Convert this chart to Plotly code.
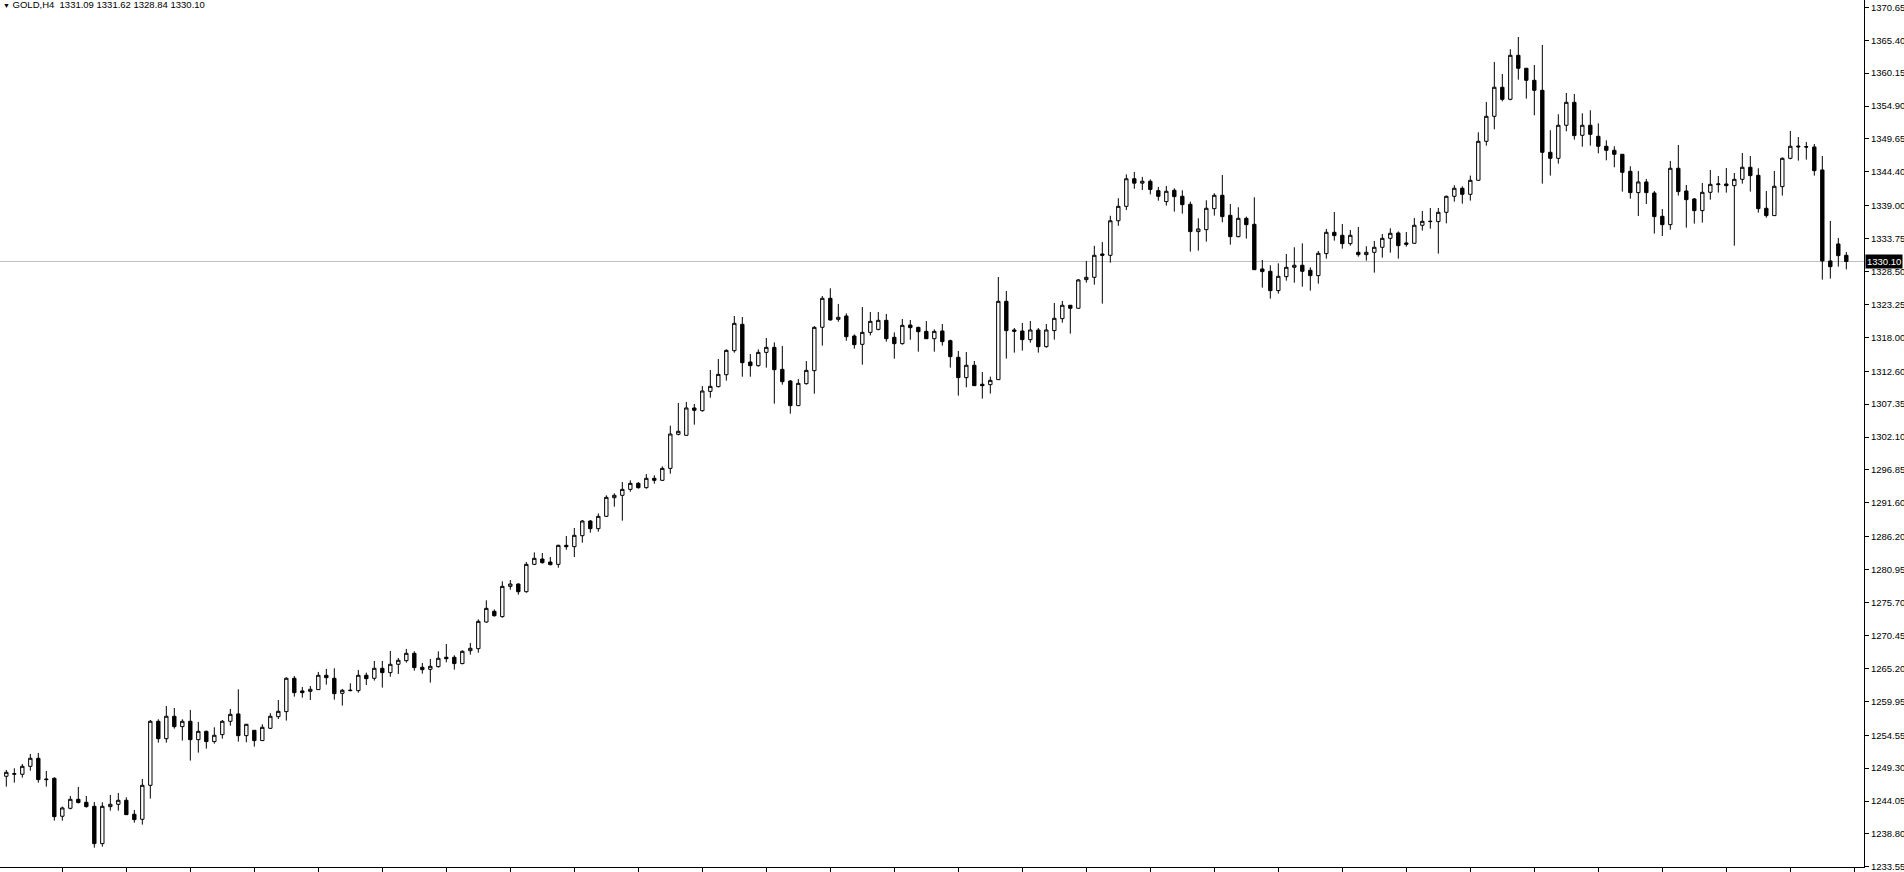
import plotly.graph_objects as go

# GOLD H4 candles (index 0 = leftmost visible bar)
opens = [
    1248.00, 1248.32, 1248.32, 1249.59, 1250.87, 1247.57, 1247.68, 1241.62, 1242.89, 1244.33,
    1243.85, 1243.21, 1237.26, 1243.16, 1243.53, 1244.17, 1241.94, 1241.14, 1246.56, 1256.77,
    1254.00, 1257.57, 1255.92, 1256.77, 1253.84, 1255.17, 1253.53, 1254.64, 1256.77, 1257.94,
    1254.48, 1255.33, 1253.69, 1255.65, 1257.51, 1258.31, 1263.63, 1261.61, 1261.55, 1261.82,
    1264.11, 1263.63, 1261.23, 1261.66, 1261.66, 1264.11, 1263.63, 1265.22, 1264.53, 1265.86,
    1266.44, 1267.61, 1265.38, 1265.06, 1265.49, 1266.98, 1266.98, 1265.97, 1268.03, 1268.35,
    1272.60, 1274.31, 1273.46, 1278.29, 1278.66, 1277.44, 1281.80, 1282.65, 1282.17, 1281.80,
    1284.83, 1284.62, 1286.37, 1288.71, 1287.49, 1289.46, 1292.43, 1292.81, 1293.76, 1294.72,
    1294.03, 1295.52, 1295.20, 1297.11, 1302.54, 1302.38, 1306.74, 1306.31, 1309.39, 1310.14,
    1312.05, 1315.88, 1320.08, 1314.07, 1313.49, 1315.61, 1316.41, 1312.90, 1311.04, 1307.11,
    1310.62, 1312.69, 1319.61, 1324.23, 1320.88, 1321.41, 1318.22, 1316.89, 1318.80, 1319.28,
    1320.72, 1318.01, 1317.00, 1319.97, 1319.60, 1318.96, 1317.79, 1319.02, 1317.48, 1314.82,
    1311.58, 1313.55, 1310.52, 1310.46, 1311.26, 1323.75, 1319.18, 1319.02, 1317.64, 1319.18,
    1316.52, 1319.08, 1320.99, 1323.12, 1322.64, 1327.21, 1327.58, 1331.30, 1331.09, 1336.60,
    1338.90, 1343.30, 1342.60, 1342.90, 1341.40, 1339.65, 1341.46, 1340.50, 1339.22, 1334.87,
    1335.18, 1338.53, 1340.66, 1337.47, 1334.07, 1336.99, 1336.03, 1328.91, 1328.54, 1325.46,
    1327.69, 1329.18, 1329.50, 1328.70, 1327.85, 1331.36, 1334.76, 1334.28, 1332.95, 1331.57,
    1331.20, 1331.57, 1332.37, 1333.80, 1334.65, 1333.06, 1333.01, 1335.88, 1336.46, 1336.46,
    1337.95, 1340.50, 1341.78, 1340.82, 1343.05, 1349.27, 1353.26, 1357.89, 1355.97, 1362.99,
    1360.92, 1359.00, 1357.41, 1347.52, 1346.56, 1351.83, 1355.49, 1350.23, 1351.83, 1350.07,
    1348.48, 1347.84, 1347.20, 1344.49, 1341.09, 1342.79, 1341.03, 1337.31, 1335.98, 1344.97,
    1341.35, 1340.08, 1338.22, 1341.14, 1342.36, 1342.47, 1342.20, 1343.21, 1345.13, 1343.85,
    1338.59, 1337.42, 1342.04, 1346.56, 1348.37, 1348.42, 1348.37, 1344.70, 1330.19, 1332.90,
    1331.09,
]
highs = [
    1249.01, 1249.27, 1249.96, 1251.56, 1251.72, 1248.85, 1247.84, 1243.16, 1244.86, 1246.30,
    1244.86, 1243.90, 1243.85, 1245.02, 1245.34, 1244.65, 1242.63, 1247.57, 1256.98, 1257.09,
    1259.21, 1258.89, 1257.09, 1258.58, 1256.66, 1255.28, 1255.81, 1256.98, 1258.74, 1261.87,
    1256.34, 1255.39, 1256.29, 1258.05, 1260.17, 1263.79, 1264.00, 1262.24, 1262.40, 1264.64,
    1265.12, 1265.22, 1261.93, 1262.83, 1264.96, 1264.53, 1266.39, 1266.39, 1267.99, 1266.87,
    1268.31, 1267.93, 1266.07, 1266.71, 1267.93, 1269.10, 1267.30, 1268.09, 1269.26, 1273.03,
    1276.06, 1274.62, 1279.09, 1279.30, 1278.77, 1282.17, 1283.71, 1283.61, 1282.97, 1284.94,
    1286.32, 1287.60, 1288.87, 1288.87, 1289.93, 1292.81, 1293.12, 1294.93, 1295.20, 1294.93,
    1296.21, 1296.00, 1297.43, 1303.92, 1307.54, 1307.70, 1307.38, 1310.24, 1312.80, 1314.55,
    1316.09, 1321.41, 1321.25, 1315.35, 1316.09, 1317.90, 1317.21, 1316.62, 1311.20, 1311.36,
    1314.23, 1319.81, 1324.60, 1325.83, 1323.32, 1321.83, 1318.48, 1322.84, 1322.05, 1322.05,
    1321.73, 1318.80, 1320.93, 1320.77, 1319.71, 1320.61, 1319.28, 1320.14, 1317.64, 1315.83,
    1315.67, 1314.24, 1312.48, 1311.74, 1327.63, 1325.40, 1319.50, 1320.30, 1320.62, 1319.50,
    1320.14, 1323.49, 1323.81, 1323.17, 1327.31, 1330.19, 1332.60, 1333.20, 1337.40, 1340.20,
    1344.00, 1344.40, 1343.60, 1343.20, 1342.00, 1342.15, 1341.78, 1341.46, 1339.65, 1336.99,
    1339.86, 1340.98, 1343.90, 1339.28, 1338.75, 1337.26, 1340.34, 1330.35, 1329.50, 1329.81,
    1331.30, 1332.37, 1333.00, 1329.18, 1331.78, 1335.29, 1338.00, 1336.09, 1335.13, 1335.61,
    1332.53, 1333.38, 1334.49, 1335.40, 1334.90, 1334.81, 1337.05, 1338.16, 1338.64, 1338.64,
    1340.61, 1342.26, 1342.10, 1343.80, 1350.71, 1355.55, 1361.93, 1360.01, 1363.95, 1365.91,
    1360.97, 1361.45, 1364.64, 1351.03, 1353.58, 1356.98, 1356.82, 1353.74, 1354.22, 1352.14,
    1349.43, 1348.48, 1347.25, 1345.29, 1344.54, 1343.27, 1341.35, 1338.48, 1346.14, 1348.69,
    1342.31, 1340.23, 1342.63, 1344.70, 1343.74, 1345.02, 1344.22, 1347.41, 1346.93, 1344.97,
    1341.35, 1344.54, 1346.70, 1350.92, 1349.96, 1349.17, 1348.85, 1346.93, 1336.57, 1333.86,
    1331.62,
]
lows = [
    1246.35, 1246.99, 1247.78, 1248.90, 1246.99, 1246.35, 1240.93, 1240.93, 1242.73, 1243.69,
    1243.00, 1236.62, 1236.78, 1242.52, 1242.52, 1241.83, 1240.61, 1240.29, 1244.44, 1253.37,
    1253.37, 1255.60, 1253.69, 1250.50, 1251.77, 1252.41, 1253.21, 1254.00, 1256.08, 1253.53,
    1253.42, 1252.73, 1253.63, 1255.55, 1257.14, 1256.88, 1260.70, 1260.54, 1260.17, 1261.77,
    1262.62, 1260.22, 1259.27, 1261.55, 1261.34, 1262.56, 1263.26, 1262.14, 1263.89, 1264.32,
    1266.13, 1264.85, 1264.37, 1262.94, 1265.33, 1266.18, 1265.01, 1265.86, 1267.40, 1267.71,
    1272.50, 1273.46, 1273.30, 1277.76, 1276.96, 1277.28, 1281.69, 1281.91, 1281.64, 1281.27,
    1284.14, 1282.97, 1285.26, 1286.85, 1287.01, 1289.35, 1291.00, 1288.77, 1293.39, 1293.87,
    1293.87, 1294.67, 1295.15, 1296.26, 1302.38, 1302.33, 1304.08, 1306.15, 1308.38, 1310.03,
    1311.10, 1315.56, 1311.73, 1311.73, 1313.33, 1313.17, 1307.43, 1310.46, 1305.83, 1307.06,
    1310.46, 1309.02, 1316.68, 1320.67, 1320.50, 1317.47, 1316.20, 1313.65, 1318.32, 1319.12,
    1317.31, 1314.60, 1316.84, 1317.63, 1315.72, 1317.74, 1315.72, 1316.68, 1313.17, 1308.71,
    1310.04, 1310.25, 1308.23, 1309.03, 1311.20, 1314.61, 1315.57, 1315.89, 1317.16, 1315.57,
    1316.36, 1317.64, 1320.35, 1318.60, 1322.58, 1326.73, 1326.41, 1323.38, 1329.92, 1335.80,
    1338.30, 1341.70, 1341.50, 1340.80, 1339.80, 1339.01, 1338.06, 1337.74, 1331.68, 1331.84,
    1333.27, 1337.42, 1336.35, 1332.79, 1333.96, 1333.75, 1328.75, 1325.93, 1324.18, 1324.98,
    1327.05, 1326.73, 1326.09, 1325.46, 1326.57, 1330.56, 1333.43, 1332.15, 1332.63, 1330.88,
    1330.24, 1328.33, 1330.72, 1331.52, 1330.56, 1332.47, 1332.96, 1335.03, 1335.34, 1331.36,
    1336.19, 1339.65, 1339.33, 1339.81, 1343.00, 1348.58, 1351.19, 1355.65, 1355.81, 1359.11,
    1356.08, 1353.42, 1342.52, 1343.80, 1345.71, 1350.87, 1349.54, 1348.42, 1348.58, 1347.36,
    1346.24, 1345.13, 1341.25, 1340.13, 1337.36, 1339.28, 1334.55, 1334.17, 1335.18, 1340.61,
    1335.50, 1336.14, 1336.30, 1339.97, 1341.09, 1341.09, 1332.63, 1342.52, 1341.25, 1337.90,
    1337.10, 1337.36, 1340.61, 1346.40, 1346.19, 1346.35, 1343.80, 1327.21, 1327.37, 1329.28,
    1328.84,
]
closes = [
    1248.63, 1248.42, 1249.59, 1250.87, 1247.47, 1247.47, 1241.56, 1242.95, 1244.33, 1243.80,
    1243.16, 1237.26, 1243.21, 1243.53, 1244.17, 1241.88, 1241.09, 1246.56, 1256.77, 1254.00,
    1257.57, 1255.92, 1256.77, 1253.84, 1255.17, 1253.53, 1254.54, 1256.77, 1257.88, 1254.48,
    1256.29, 1253.69, 1255.81, 1257.57, 1258.36, 1263.63, 1261.34, 1261.34, 1261.87, 1264.11,
    1263.73, 1261.18, 1261.71, 1261.71, 1264.11, 1263.57, 1265.22, 1264.53, 1265.86, 1266.50,
    1267.61, 1265.33, 1265.01, 1265.54, 1266.82, 1266.76, 1265.97, 1267.93, 1268.41, 1272.71,
    1274.78, 1273.61, 1278.29, 1278.66, 1277.44, 1281.80, 1282.76, 1282.07, 1281.75, 1284.83,
    1284.62, 1286.43, 1288.71, 1287.49, 1289.46, 1292.49, 1292.81, 1293.76, 1294.72, 1294.03,
    1295.52, 1295.20, 1297.11, 1302.59, 1303.02, 1306.74, 1306.37, 1309.45, 1310.19, 1312.10,
    1315.93, 1320.24, 1313.97, 1313.49, 1315.61, 1316.41, 1312.85, 1310.94, 1307.11, 1310.67,
    1312.74, 1319.60, 1324.23, 1320.78, 1321.20, 1318.11, 1316.84, 1318.80, 1320.56, 1320.72,
    1317.79, 1317.00, 1319.92, 1319.55, 1318.91, 1317.79, 1318.96, 1317.32, 1314.93, 1311.58,
    1313.55, 1310.30, 1310.30, 1311.15, 1323.75, 1319.08, 1318.97, 1317.64, 1319.18, 1316.52,
    1319.18, 1321.04, 1323.12, 1322.64, 1327.16, 1327.58, 1331.09, 1331.09, 1336.60, 1338.90,
    1343.30, 1342.60, 1342.90, 1341.60, 1340.50, 1341.30, 1340.45, 1339.17, 1334.87, 1335.29,
    1338.59, 1340.66, 1337.26, 1334.07, 1336.99, 1335.98, 1328.80, 1328.49, 1325.46, 1327.74,
    1329.18, 1329.50, 1328.54, 1327.85, 1331.41, 1334.76, 1334.23, 1332.95, 1334.28, 1331.20,
    1331.57, 1332.37, 1333.80, 1334.60, 1332.63, 1332.85, 1335.88, 1336.51, 1336.51, 1337.95,
    1340.50, 1341.78, 1340.82, 1343.05, 1349.27, 1353.26, 1357.89, 1355.97, 1362.99, 1360.92,
    1359.00, 1357.41, 1347.52, 1346.56, 1351.83, 1355.49, 1350.18, 1351.83, 1350.39, 1348.48,
    1347.84, 1347.20, 1344.33, 1341.09, 1342.79, 1341.09, 1337.26, 1335.98, 1344.97, 1341.25,
    1339.97, 1338.22, 1341.14, 1342.41, 1342.47, 1342.20, 1343.21, 1345.13, 1343.80, 1338.53,
    1337.42, 1342.10, 1346.56, 1348.48, 1348.48, 1348.37, 1344.59, 1330.19, 1329.28, 1331.04,
    1330.10,
]
bars = list(range(len(opens)))

price_ticks = [1370.65, 1365.40, 1360.15, 1354.90, 1349.65, 1344.40, 1339.00, 1333.75, 1328.50,
               1323.25, 1318.00, 1312.60, 1307.35, 1302.10, 1296.85, 1291.60, 1286.20, 1280.95,
               1275.70, 1270.45, 1265.20, 1259.95, 1254.55, 1249.30, 1244.05, 1238.80, 1233.55]
price_labels = [f"{v:.2f}" for v in price_ticks]

symbol = "GOLD,H4"
last_bar = (opens[-1], highs[-1], lows[-1], closes[-1])
bid = closes[-1]

font_main = "Liberation Sans, Arial, sans-serif"

fig = go.Figure()
fig.add_trace(go.Candlestick(
    x=bars, open=opens, high=highs, low=lows, close=closes,
    increasing=dict(line=dict(color="black", width=1), fillcolor="white"),
    decreasing=dict(line=dict(color="black", width=1), fillcolor="black"),
    whiskerwidth=0,
    hoverinfo="skip",
    showlegend=False,
))

# линия текущей цены
fig.add_shape(type="line", xref="paper", x0=0, x1=1, yref="y", y0=bid, y1=bid,
              line=dict(color="#C0C0C0", width=1), layer="below")

fig.add_annotation(
    xref="paper", x=1, xanchor="left", xshift=1, yref="y", y=bid, yanchor="middle",
    text=f"{bid:.2f}", showarrow=False, bgcolor="black", borderpad=1,
    font=dict(color="white", size=9.5, family=font_main),
)

head = " ".join(f"{v:.2f}" for v in last_bar)
fig.add_annotation(
    xref="paper", x=0, xanchor="left", xshift=1, yref="paper", y=1, yanchor="top", yshift=3,
    text=f"<span style='font-size:7px'>▼</span> {symbol}&nbsp; {head}",
    showarrow=False, font=dict(color="black", size=9.5, family=font_main),
)

fig.update_layout(
    width=1904, height=872,
    margin=dict(l=0, r=40, t=0, b=5),
    paper_bgcolor="white", plot_bgcolor="white",
    boxgap=0.4,
    font=dict(family=font_main, size=9.5, color="black"),
    xaxis=dict(
        range=[-0.79, 232.21], rangeslider=dict(visible=False),
        showgrid=False, zeroline=False, showline=True, linecolor="black", linewidth=1,
        ticks="outside", ticklen=5, tickcolor="black", tick0=7, dtick=8,
        showticklabels=False, fixedrange=True,
    ),
    yaxis=dict(
        side="right", range=[1233.53, 1371.81],
        showgrid=False, zeroline=False, showline=True, linecolor="black", linewidth=1,
        ticks="outside", ticklen=4, tickcolor="black",
        tickvals=price_ticks, ticktext=price_labels, ticklabeloverflow="allow",
        tickfont=dict(size=9.5, family=font_main, color="black"),
        fixedrange=True,
    ),
)

# без отступов страницы, чтобы рисунок лёг ровно в окно
fig.write_html("out.html", config={"displayModeBar": False},
               post_script="document.body.style.margin='0';document.body.style.overflow='hidden';")
